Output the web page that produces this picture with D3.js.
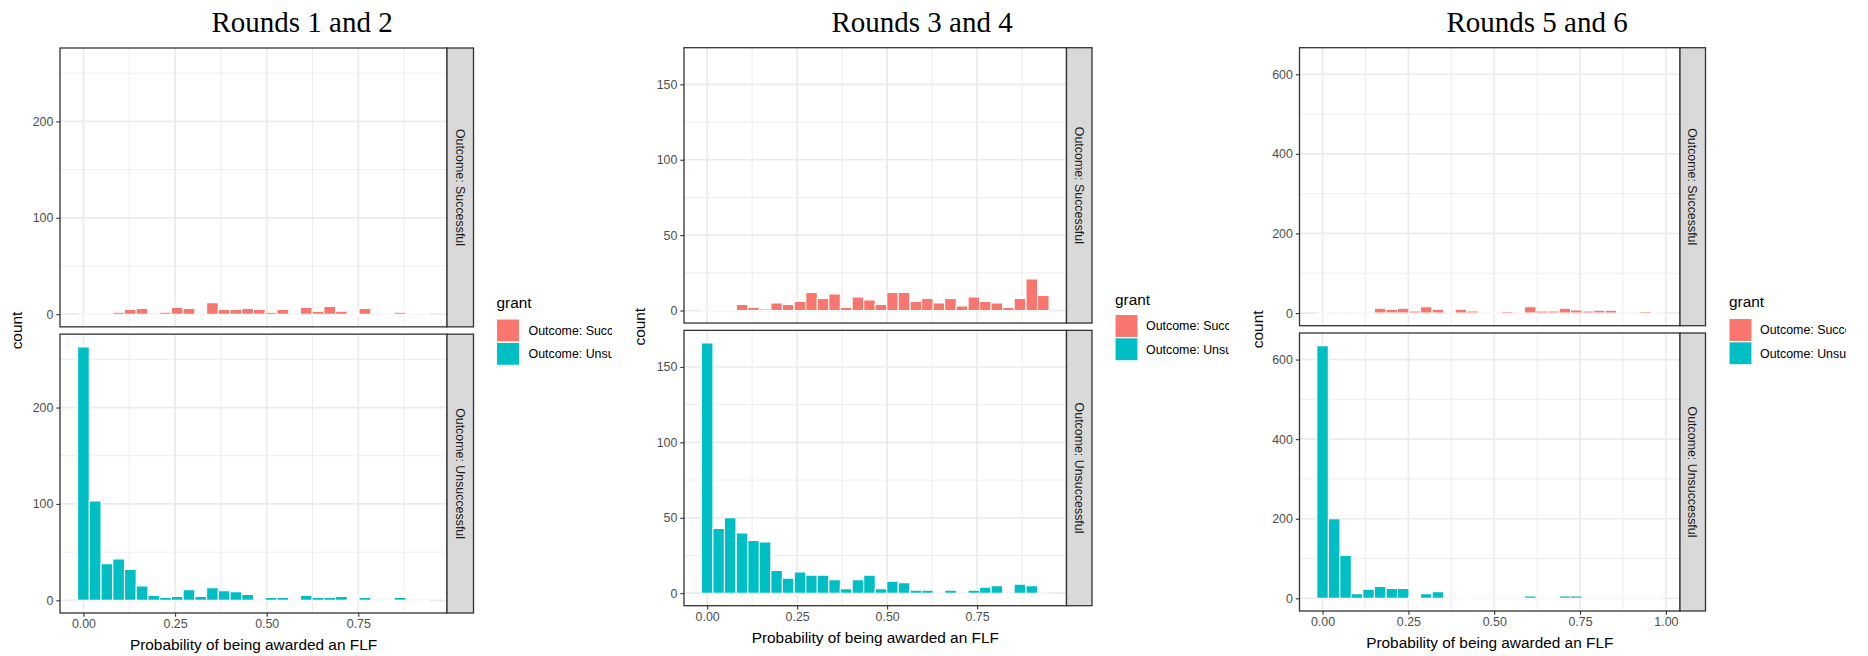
<!DOCTYPE html>
<html><head><meta charset="utf-8">
<script src="https://cdn.jsdelivr.net/npm/d3@7"></script>
<style>
body{margin:0;background:#fff}
svg{display:block}
</style>
</head><body>
<svg id="chart" width="1868" height="656"></svg>
<script>
// ---------------- DATA ----------------
const chartTitles = ["Rounds 1 and 2", "Rounds 3 and 4", "Rounds 5 and 6"];
const facetLabels = ["Outcome: Successful", "Outcome: Unsuccessful"];
const legendLabels = ["Outcome: Successful", "Outcome: Unsuccessful"];
const legendTitle = "grant";
const xAxisTitle = "Probability of being awarded an FLF";
const yAxisTitle = "count";

// Rounds 1 and 2
const binCenters1 = [0, .032, .064, .096, .128, .160, .192, .224, .256, .288, .320, .352, .384, .416, .448,
  .480, .512, .544, .576, .608, .640, .672, .704, .736, .768, .800, .832, .864, .896, .928];
const binWidth1 = 0.032;
const successful1 = [0, 0, 0, 2, 5, 6, 0, 2, 7, 6, 0, 12, 5, 5, 6, 5, 2, 5, 0, 7, 3, 8, 3, 1, 6, 0, 1, 2, 1, 1];
const unsuccessful1 = [263, 103, 38, 43, 32, 15, 5, 3, 4, 11, 4, 13, 10, 9, 6, 0, 3, 3, 0, 5, 3, 3, 4, 1, 3, 0, 0, 3, 0, 0];
const yTicks1 = [0, 100, 200];
const yMinor1 = [50, 150, 250];
const xTicks1 = [0, 0.25, 0.5, 0.75];
const xMinor1 = [0.125, 0.375, 0.625, 0.875];

// Rounds 3 and 4
const binCenters2 = [0, .032, .064, .097, .129, .161, .193, .225, .258, .290, .322, .354, .386, .419, .451,
  .483, .515, .547, .580, .612, .644, .676, .708, .741, .773, .805, .837, .869, .902, .934];
const binWidth2 = 0.0322;
const successful2 = [0, 0, 0, 4, 2, 1, 5, 4, 6, 12, 8, 11, 2, 9, 7, 4, 12, 12, 6, 8, 5, 8, 3, 9, 6, 5, 2, 8, 21, 10];
const unsuccessful2 = [166, 43, 50, 40, 35, 34, 15, 10, 14, 12, 12, 9, 3, 9, 12, 3, 8, 7, 2, 2, 0, 2, 0, 2, 4, 5, 0, 6, 5, 0];
const yTicks2 = [0, 50, 100, 150];
const yMinor2 = [25, 75, 125];
const xTicks2 = [0, 0.25, 0.5, 0.75];
const xMinor2 = [0.125, 0.375, 0.625, 0.875];

// Rounds 5 and 6
const binCenters3 = [0, .034, .067, .101, .134, .168, .202, .235, .269, .302, .336, .370, .403, .437, .470,
  .504, .538, .571, .605, .638, .672, .706, .739, .773, .806, .840, .874, .907, .941, .974];
const binWidth3 = 0.0336;
const successful3 = [0, 0, 0, 0, 0, 12, 9, 12, 5, 16, 10, 0, 10, 5, 0, 0, 4, 0, 16, 5, 5, 12, 8, 5, 7, 7, 0, 0, 4, 0];
const unsuccessful3 = [635, 200, 108, 12, 23, 30, 25, 25, 3, 12, 17, 0, 3, 0, 0, 0, 0, 0, 6, 0, 3, 6, 6, 0, 0, 0, 0, 0, 0, 0];
const yTicks3 = [0, 200, 400, 600];
const yMinor3 = [100, 300, 500];
const xTicks3 = [0, 0.25, 0.5, 0.75, 1.0];
const xMinor3 = [0.125, 0.375, 0.625, 0.875];

const fillColors = ["#F8766D", "#00BFC4"];

// ---------------- LAYOUT ----------------
const layouts = [
  {left: 60, right: 447, stripRight: 473.5, top: 48, bottom: 613, titleX: 302, yTitleX: 17,
   legendX: 496.5, legendTitleY: 308, keyTop: 319, labelX: 528.5, clipRight: 612},
  {left: 684, right: 1066.5, stripRight: 1092, top: 47.7, bottom: 605.7, titleX: 922, yTitleX: 640,
   legendX: 1115, legendTitleY: 305, keyTop: 314.5, labelX: 1146, clipRight: 1229},
  {left: 1299.5, right: 1680, stripRight: 1705.5, top: 47.7, bottom: 611, titleX: 1537, yTitleX: 1258,
   legendX: 1729, legendTitleY: 307, keyTop: 318.5, labelX: 1760, clipRight: 1846}
];
const charts = [
  {centers: binCenters1, width: binWidth1, series: [successful1, unsuccessful1], yTicks: yTicks1, yMinor: yMinor1, xTicks: xTicks1, xMinor: xMinor1},
  {centers: binCenters2, width: binWidth2, series: [successful2, unsuccessful2], yTicks: yTicks2, yMinor: yMinor2, xTicks: xTicks2, xMinor: xMinor2},
  {centers: binCenters3, width: binWidth3, series: [successful3, unsuccessful3], yTicks: yTicks3, yMinor: yMinor3, xTicks: xTicks3, xMinor: xMinor3}
];

const SANS = "'Liberation Sans', Arial, sans-serif";
const svg = d3.select("#chart");
const defs = svg.append("defs");
const panelGap = 7.3;
const gridColor = "#EBEBEB";

charts.forEach((c, ci) => {
  const L = layouts[ci];
  const g = svg.append("g");
  const ph = (L.bottom - L.top - panelGap) / 2;

  // x scale with 5% expansion
  const xmin = d3.min(c.centers) - c.width / 2, xmax = d3.max(c.centers) + c.width / 2;
  const xr = xmax - xmin;
  const x = d3.scaleLinear().domain([xmin - 0.05 * xr, xmax + 0.05 * xr]).range([L.left, L.right]);
  const ymax = d3.max(c.series.flat());
  const ydom = [-0.05 * ymax, ymax * 1.05];

  // title
  g.append("text").attr("x", L.titleX).attr("y", 31.7).attr("text-anchor", "middle")
    .attr("font-family", "'Liberation Serif', 'Times New Roman', serif").attr("font-size", "29px")
    .attr("fill", "#000").text(chartTitles[ci]);

  c.series.forEach((vals, pi) => {
    const top = L.top + pi * (ph + panelGap);
    const bot = top + ph;
    const y = d3.scaleLinear().domain(ydom).range([bot, top]);
    const pg = g.append("g");
    pg.append("rect").attr("x", L.left).attr("y", top).attr("width", L.right - L.left).attr("height", ph).attr("fill", "#fff");
    // minor grid
    pg.selectAll(".xm").data(c.xMinor.filter(v => x(v) < L.right)).join("line")
      .attr("x1", d => x(d)).attr("x2", d => x(d)).attr("y1", top).attr("y2", bot)
      .attr("stroke", gridColor).attr("stroke-width", 0.9);
    pg.selectAll(".ym").data(c.yMinor.filter(v => y(v) > top)).join("line")
      .attr("x1", L.left).attr("x2", L.right).attr("y1", d => y(d)).attr("y2", d => y(d))
      .attr("stroke", gridColor).attr("stroke-width", 0.9);
    // major grid
    pg.selectAll(".xM").data(c.xTicks).join("line")
      .attr("x1", d => x(d)).attr("x2", d => x(d)).attr("y1", top).attr("y2", bot)
      .attr("stroke", gridColor).attr("stroke-width", 1.7);
    pg.selectAll(".yM").data(c.yTicks).join("line")
      .attr("x1", L.left).attr("x2", L.right).attr("y1", d => y(d)).attr("y2", d => y(d))
      .attr("stroke", gridColor).attr("stroke-width", 1.7);
    // bars
    const bins = c.centers.map((ctr, i) => ({x0: ctr - c.width / 2, x1: ctr + c.width / 2, v: vals[i]}));
    pg.selectAll(".bar").data(bins).join("path")
      .attr("d", d => `M${x(d.x0)},${y(0)}H${x(d.x1)}V${y(d.v)}H${x(d.x0)}Z`)
      .attr("fill", fillColors[pi]).attr("stroke", "#fff").attr("stroke-width", 1.1);
    // border
    pg.append("rect").attr("x", L.left).attr("y", top).attr("width", L.right - L.left).attr("height", ph)
      .attr("fill", "none").attr("stroke", "#333").attr("stroke-width", 1.3);
    // strip
    pg.append("rect").attr("x", L.right).attr("y", top).attr("width", L.stripRight - L.right).attr("height", ph)
      .attr("fill", "#D9D9D9").attr("stroke", "#333").attr("stroke-width", 1.3);
    pg.append("text")
      .attr("transform", `translate(${(L.right + L.stripRight) / 2},${(top + bot) / 2}) rotate(90)`)
      .attr("text-anchor", "middle").attr("dy", "0.35em")
      .attr("font-family", SANS).attr("font-size", "12.4px").attr("fill", "#1A1A1A")
      .text(facetLabels[pi]);
    // y axis
    const ya = pg.append("g").attr("transform", `translate(${L.left},0)`)
      .call(d3.axisLeft(y).tickValues(c.yTicks).tickFormat(d3.format("d")).tickSize(3.7).tickPadding(2.9));
    ya.select(".domain").remove();
    ya.selectAll("line").attr("stroke", "#333").attr("stroke-width", 1.1);
    ya.selectAll("text").attr("font-family", SANS).attr("font-size", "12.4px").attr("fill", "#4D4D4D");
    // x axis on bottom panel
    if (pi === 1) {
      const xa = pg.append("g").attr("transform", `translate(0,${bot})`)
        .call(d3.axisBottom(x).tickValues(c.xTicks).tickFormat(d3.format(".2f")).tickSize(3.7).tickPadding(2.9));
      xa.select(".domain").remove();
      xa.selectAll("line").attr("stroke", "#333").attr("stroke-width", 1.1);
      xa.selectAll("text").attr("font-family", SANS).attr("font-size", "12.4px").attr("fill", "#4D4D4D");
      g.append("text").attr("x", (L.left + L.right) / 2).attr("y", bot + 37)
        .attr("text-anchor", "middle").attr("font-family", SANS).attr("font-size", "15.4px")
        .attr("fill", "#000").text(xAxisTitle);
    }
  });

  // y title
  g.append("text")
    .attr("transform", `translate(${L.yTitleX},${(L.top + L.bottom) / 2}) rotate(-90)`)
    .attr("text-anchor", "middle").attr("dy", "0.35em")
    .attr("font-family", SANS).attr("font-size", "15.4px").attr("fill", "#000").text(yAxisTitle);

  // legend (the reference image crops the legend labels at its right edge)
  const clipId = "clip" + ci;
  defs.append("clipPath").attr("id", clipId).append("rect")
    .attr("x", L.legendX - 5).attr("y", 280).attr("width", L.clipRight - L.legendX + 5).attr("height", 120);
  const lg = g.append("g").attr("clip-path", `url(#${clipId})`);
  lg.append("text").attr("x", L.legendX).attr("y", L.legendTitleY)
    .attr("font-family", SANS).attr("font-size", "15.4px").attr("fill", "#000").text(legendTitle);
  legendLabels.forEach((lab, i) => {
    const ky = L.keyTop + i * 23.3;
    lg.append("rect").attr("x", L.legendX).attr("y", ky).attr("width", 23).attr("height", 23)
      .attr("fill", fillColors[i]).attr("stroke", "#fff").attr("stroke-width", 1.1);
    lg.append("text").attr("x", L.labelX).attr("y", ky + 11.5).attr("dy", "0.35em")
      .attr("font-family", SANS).attr("font-size", "12.4px").attr("fill", "#000").text(lab);
  });
});
</script>
</body></html>
